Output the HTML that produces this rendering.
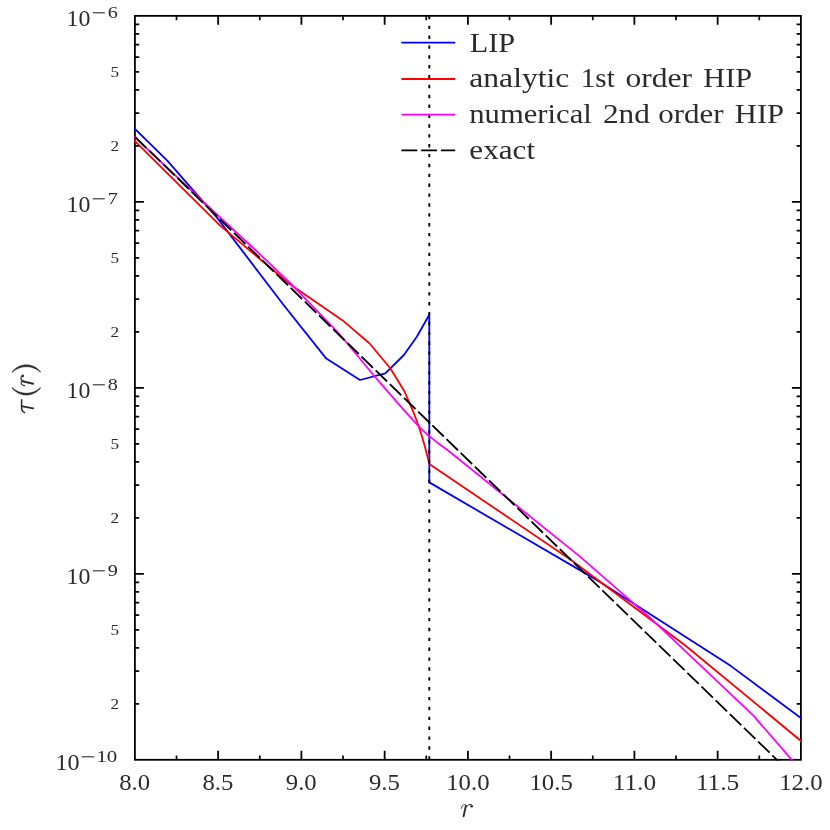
<!DOCTYPE html>
<html><head><meta charset="utf-8"><title>plot</title>
<style>
html,body{margin:0;padding:0;background:#fff;}
body{width:830px;height:830px;overflow:hidden;}
svg{display:block;will-change:transform;}
text{font-family:"Liberation Serif",serif;fill:#2b2b2b;}
</style></head><body>
<svg width="830" height="830" viewBox="0 0 830 830">
<rect width="830" height="830" fill="#fff"/>
<defs><clipPath id="c"><rect x="134.10" y="15.05" width="667.60" height="745.55"/></clipPath></defs>
<rect x="134.90" y="15.85" width="666.00" height="743.95" fill="none" stroke="#000" stroke-width="1.8"/>
<g clip-path="url(#c)" fill="none" stroke-linejoin="round">
<polyline points="133.9,128.0 167.3,160.6 216.8,217.4 284.0,305.5 326.3,358.6 360.0,380.0 385.3,373.4 403.9,355.0 416.8,336.8 429.3,314.8 429.3,482.4 600.0,581.9 731.0,666.1 801.9,718.9" stroke="#0000ff" stroke-width="1.80" />
<polyline points="133.9,140.2 219.9,225.4 290.0,284.2 342.7,320.4 369.6,343.5 390.1,368.0 404.1,390.7 408.9,401.6 413.7,412.8 418.6,426.0 422.4,437.8 425.8,450.0 429.3,463.9 570.0,559.3 685.0,645.2 801.9,741.7" stroke="#ff0000" stroke-width="1.80" />
<polyline points="133.9,136.5 222.8,220.0 255.4,250.0 289.8,282.7 335.9,330.4 346.1,342.0 375.1,377.0 380.0,382.6 389.6,393.7 399.3,404.8 408.9,415.7 418.6,426.2 428.2,435.4 437.8,442.9 447.5,450.0 580.0,556.6 650.0,617.6 753.2,715.4 791.9,759.8 801.9,771.1" stroke="#ff00ff" stroke-width="1.80" />
<polyline points="134.9,136.7 805.0,787.1" stroke="#000" stroke-width="1.80" stroke-dasharray="15.9 3.84"/>
<line x1="429.3" y1="759.56" x2="429.3" y2="15.85" stroke="#000" stroke-width="1.9" stroke-dasharray="3.4 6.472" stroke-dashoffset="0.00"/>
</g>
<path d="M218.15 759.80v-9.0M218.15 15.85v9.0M301.40 759.80v-9.0M301.40 15.85v9.0M384.65 759.80v-9.0M384.65 15.85v9.0M467.90 759.80v-9.0M467.90 15.85v9.0M551.15 759.80v-9.0M551.15 15.85v9.0M634.40 759.80v-9.0M634.40 15.85v9.0M717.65 759.80v-9.0M717.65 15.85v9.0M134.90 573.81h9.0M800.90 573.81h-9.0M134.90 387.82h9.0M800.90 387.82h-9.0M134.90 201.84h9.0M800.90 201.84h-9.0" stroke="#000" stroke-width="1.80" fill="none"/>
<path d="M176.53 759.80v-4.3M176.53 15.85v4.3M259.77 759.80v-4.3M259.77 15.85v4.3M343.02 759.80v-4.3M343.02 15.85v4.3M426.27 759.80v-4.3M426.27 15.85v4.3M509.52 759.80v-4.3M509.52 15.85v4.3M592.77 759.80v-4.3M592.77 15.85v4.3M676.02 759.80v-4.3M676.02 15.85v4.3M759.27 759.80v-4.3M759.27 15.85v4.3M134.90 703.81h4.3M800.90 703.81h-4.3M134.90 671.06h4.3M800.90 671.06h-4.3M134.90 647.82h4.3M800.90 647.82h-4.3M134.90 629.80h4.3M800.90 629.80h-4.3M134.90 615.07h4.3M800.90 615.07h-4.3M134.90 602.62h4.3M800.90 602.62h-4.3M134.90 591.84h4.3M800.90 591.84h-4.3M134.90 582.32h4.3M800.90 582.32h-4.3M134.90 517.82h4.3M800.90 517.82h-4.3M134.90 485.07h4.3M800.90 485.07h-4.3M134.90 461.84h4.3M800.90 461.84h-4.3M134.90 443.81h4.3M800.90 443.81h-4.3M134.90 429.09h4.3M800.90 429.09h-4.3M134.90 416.63h4.3M800.90 416.63h-4.3M134.90 405.85h4.3M800.90 405.85h-4.3M134.90 396.34h4.3M800.90 396.34h-4.3M134.90 331.84h4.3M800.90 331.84h-4.3M134.90 299.09h4.3M800.90 299.09h-4.3M134.90 275.85h4.3M800.90 275.85h-4.3M134.90 257.83h4.3M800.90 257.83h-4.3M134.90 243.10h4.3M800.90 243.10h-4.3M134.90 230.65h4.3M800.90 230.65h-4.3M134.90 219.86h4.3M800.90 219.86h-4.3M134.90 210.35h4.3M800.90 210.35h-4.3M134.90 145.85h4.3M800.90 145.85h-4.3M134.90 113.10h4.3M800.90 113.10h-4.3M134.90 89.86h4.3M800.90 89.86h-4.3M134.90 71.84h4.3M800.90 71.84h-4.3M134.90 57.11h4.3M800.90 57.11h-4.3M134.90 44.66h4.3M800.90 44.66h-4.3M134.90 33.87h4.3M800.90 33.87h-4.3M134.90 24.36h4.3M800.90 24.36h-4.3" stroke="#000" stroke-width="1.70" fill="none"/>
<line x1="401.4" y1="42.7" x2="455.2" y2="42.7" stroke="#0000ff" stroke-width="1.80"/>
<text x="469.7" y="52.0" font-size="28.3" textLength="45.3" lengthAdjust="spacingAndGlyphs">LIP</text>
<line x1="401.4" y1="79.0" x2="455.2" y2="79.0" stroke="#ff0000" stroke-width="1.80"/>
<text x="469.3" y="87.4" font-size="27.0" textLength="100.0" lengthAdjust="spacingAndGlyphs">analytic</text>
<text x="580.8" y="87.4" font-size="27.0" textLength="34.0" lengthAdjust="spacingAndGlyphs">1st</text>
<text x="625.4" y="87.4" font-size="27.0" textLength="66.6" lengthAdjust="spacingAndGlyphs">order</text>
<text x="703.3" y="87.4" font-size="28.3" textLength="48.9" lengthAdjust="spacingAndGlyphs">HIP</text>
<line x1="401.4" y1="114.7" x2="455.2" y2="114.7" stroke="#ff00ff" stroke-width="1.80"/>
<text x="469.3" y="123.2" font-size="27.0" textLength="122.5" lengthAdjust="spacingAndGlyphs">numerical</text>
<text x="602.9" y="123.2" font-size="27.0" textLength="46.9" lengthAdjust="spacingAndGlyphs">2nd</text>
<text x="658.2" y="123.2" font-size="27.0" textLength="65.3" lengthAdjust="spacingAndGlyphs">order</text>
<text x="734.8" y="123.2" font-size="28.3" textLength="49.3" lengthAdjust="spacingAndGlyphs">HIP</text>
<line x1="401.4" y1="150.3" x2="455.2" y2="150.3" stroke="#000" stroke-width="1.80" stroke-dasharray="15.9 3.84"/>
<text x="469.3" y="159.0" font-size="27.0" textLength="65.8" lengthAdjust="spacingAndGlyphs">exact</text>
<text x="119.2" y="789.9" font-size="23.4" textLength="30.9" lengthAdjust="spacingAndGlyphs">8.0</text>
<text x="202.5" y="789.9" font-size="23.4" textLength="30.9" lengthAdjust="spacingAndGlyphs">8.5</text>
<text x="285.8" y="789.9" font-size="23.4" textLength="30.9" lengthAdjust="spacingAndGlyphs">9.0</text>
<text x="369.0" y="789.9" font-size="23.4" textLength="30.9" lengthAdjust="spacingAndGlyphs">9.5</text>
<text x="446.2" y="789.9" font-size="23.4" textLength="43.4" lengthAdjust="spacingAndGlyphs">10.0</text>
<text x="529.4" y="789.9" font-size="23.4" textLength="43.4" lengthAdjust="spacingAndGlyphs">10.5</text>
<text x="612.7" y="789.9" font-size="23.4" textLength="43.4" lengthAdjust="spacingAndGlyphs">11.0</text>
<text x="695.9" y="789.9" font-size="23.4" textLength="43.4" lengthAdjust="spacingAndGlyphs">11.5</text>
<text x="779.2" y="789.9" font-size="23.4" textLength="43.4" lengthAdjust="spacingAndGlyphs">12.0</text>
<text x="55.5" y="770.1" font-size="23.8" textLength="24.2" lengthAdjust="spacingAndGlyphs">10</text>
<line x1="81.9" y1="756.8" x2="94.2" y2="756.8" stroke="#2b2b2b" stroke-width="1.1"/>
<text x="96.4" y="761.7" font-size="17.2" textLength="20.9" lengthAdjust="spacingAndGlyphs">10</text>
<text x="110.6" y="708.5" font-size="14.6" textLength="8.6" lengthAdjust="spacingAndGlyphs">2</text>
<text x="110.6" y="634.5" font-size="14.6" textLength="8.6" lengthAdjust="spacingAndGlyphs">5</text>
<text x="66.5" y="584.1" font-size="23.8" textLength="23.9" lengthAdjust="spacingAndGlyphs">10</text>
<line x1="92.8" y1="570.8" x2="104.8" y2="570.8" stroke="#2b2b2b" stroke-width="1.1"/>
<text x="107.7" y="575.7" font-size="17.2" textLength="10.1" lengthAdjust="spacingAndGlyphs">9</text>
<text x="110.6" y="522.5" font-size="14.6" textLength="8.6" lengthAdjust="spacingAndGlyphs">2</text>
<text x="110.6" y="448.5" font-size="14.6" textLength="8.6" lengthAdjust="spacingAndGlyphs">5</text>
<text x="66.5" y="398.1" font-size="23.8" textLength="23.9" lengthAdjust="spacingAndGlyphs">10</text>
<line x1="92.8" y1="384.8" x2="104.8" y2="384.8" stroke="#2b2b2b" stroke-width="1.1"/>
<text x="107.7" y="389.7" font-size="17.2" textLength="10.1" lengthAdjust="spacingAndGlyphs">8</text>
<text x="110.6" y="336.5" font-size="14.6" textLength="8.6" lengthAdjust="spacingAndGlyphs">2</text>
<text x="110.6" y="262.5" font-size="14.6" textLength="8.6" lengthAdjust="spacingAndGlyphs">5</text>
<text x="66.5" y="212.1" font-size="23.8" textLength="23.9" lengthAdjust="spacingAndGlyphs">10</text>
<line x1="92.8" y1="198.8" x2="104.8" y2="198.8" stroke="#2b2b2b" stroke-width="1.1"/>
<text x="107.7" y="203.7" font-size="17.2" textLength="10.1" lengthAdjust="spacingAndGlyphs">7</text>
<text x="110.6" y="150.5" font-size="14.6" textLength="8.6" lengthAdjust="spacingAndGlyphs">2</text>
<text x="110.6" y="76.5" font-size="14.6" textLength="8.6" lengthAdjust="spacingAndGlyphs">5</text>
<text x="66.5" y="26.1" font-size="23.8" textLength="23.9" lengthAdjust="spacingAndGlyphs">10</text>
<line x1="92.8" y1="12.8" x2="104.8" y2="12.8" stroke="#2b2b2b" stroke-width="1.1"/>
<text x="107.7" y="17.8" font-size="17.2" textLength="10.1" lengthAdjust="spacingAndGlyphs">6</text>
<g fill="none" stroke="#2b2b2b" stroke-linecap="round" stroke-linejoin="round">
<path d="M463.6 816.3L465.9 805.6" stroke-width="1.9"/>
<path d="M461.3 808.4C461.8 806 463 804.5 464.6 804.6L465.9 805.6" stroke-width="0.9"/>
<path d="M466.3 807C467.5 805.2 469.3 804.2 471.3 804.4" stroke-width="1.0"/>
<circle cx="471.7" cy="806.2" r="1.3" fill="#2b2b2b" stroke="none"/>
</g>
<g fill="none" stroke="#2b2b2b" stroke-linecap="round" stroke-linejoin="round">
<path d="M12 371.9C19.5 362.4 33.2 362.4 40.7 371.9L40.3 372.3C33 364.9 19.7 364.9 12.4 372.3Z" fill="#2b2b2b" stroke-width="0.4"/>
<path d="M12 388.0C19.5 397.5 33.2 397.5 40.7 388.0L40.3 387.6C33 395.0 19.7 395.0 12.4 387.6Z" fill="#2b2b2b" stroke-width="0.4"/>
<path d="M33.2 383.7L22.4 381.2" stroke-width="1.9"/>
<path d="M23.6 381.5C21.2 380.6 20.2 378.2 21.4 376.5" stroke-width="1.2"/>
<circle cx="22.7" cy="375.9" r="1.3" fill="#2b2b2b" stroke="none"/>
<path d="M24.6 385.6C22.4 385.7 20.8 384.2 21.1 382.3L22.4 381.2" stroke-width="1.1"/>
<path d="M21.6 399.7L21.6 408.6C21.6 410.8 22.8 411.8 24.6 412.6" stroke-width="1.5"/>
<path d="M22.6 406.4L33.2 408.3" stroke-width="1.8"/>
</g>
</svg>
</body></html>
